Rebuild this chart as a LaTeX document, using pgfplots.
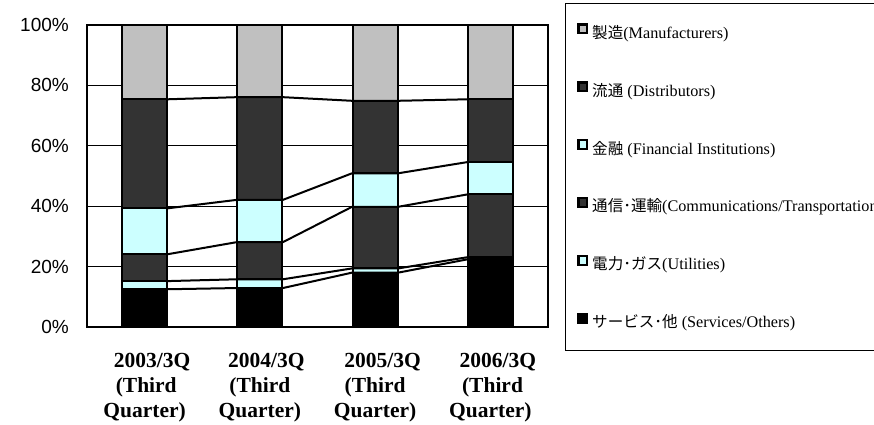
\documentclass[border=0pt]{standalone}
\usepackage{fontspec}
\setmainfont{Liberation Serif}
\newfontfamily\arialf{Liberation Sans}
\newfontfamily\cjk[Scale=0.96]{Noto Sans CJK JP}
\usepackage{pgfplots}
\pgfplotsset{compat=1.18}
\usepackage{pgfplotstable}

\definecolor{cManu}{HTML}{C0C0C0}
\definecolor{cDist}{HTML}{333333}
\definecolor{cFin}{HTML}{CCFFFF}
\definecolor{cComm}{HTML}{333333}
\definecolor{cUtil}{HTML}{CCFFFF}
\definecolor{cServ}{HTML}{000000}

% individual shares (%)
\pgfplotstableread{
x Serv Util Comm Fin Dist Manu
0 12.5 2.7 8.9  15.2 36.1 24.6
1 12.9 2.9 12.3 14.0 34.0 23.9
2 18.0 1.4 20.4 11.1 24.0 25.1
3 22.4 0.7 20.8 10.7 20.8 24.6
}\shares

% cumulative boundaries for the series lines (bar edges at x +/- 0.2)
\pgfplotstableread{
x   c1   c2   c3   c4   c5
0.2 12.5 15.2 24.1 39.3 75.4
0.8 12.9 15.8 28.1 42.1 76.1
1.2 12.9 15.8 28.1 42.1 76.1
1.8 18.0 19.4 39.8 50.9 74.9
2.2 18.0 19.4 39.8 50.9 74.9
2.8 22.4 23.1 43.9 54.6 75.4
}\cumul

\pgfplotsset{
  base/.style={
    scale only axis, width=461bp, height=302bp,
    at={(0,0)}, anchor=south west,
    xmin=-0.5, xmax=3.5, ymin=0, ymax=100,
    enlargelimits=false,
  },
}

\begin{document}
\begin{tikzpicture}
\begin{axis}[base,
  ybar stacked, bar width=45bp,
  axis line style={line width=1.6bp},
  major tick length=0pt,
  ytick={0,20,40,60,80,100},
  yticklabel={\pgfmathprintnumber{\tick}\%},
  /pgf/number format/assume math mode=true,
  yticklabel style={font=\arialf\fontsize{19bp}{22bp}\selectfont, inner sep=0pt, anchor=east, xshift=-18bp},
  xtick={0,1,2,3},
  xticklabels={{\hspace*{0.7em}2003/3Q\\\hspace*{0.15em}(Third\\Quarter)},
               {\hspace*{0.6em}2004/3Q\\(Third\\Quarter)},
               {\hspace*{0.7em}2005/3Q\\(Third\\Quarter)},
               {\hspace*{0.7em}2006/3Q\\\hspace*{0.2em}(Third\\Quarter)}},
  xticklabel style={font=\bfseries\fontsize{21.5bp}{25bp}\selectfont, align=center, inner sep=0pt, anchor=north, yshift=-26bp},
  ymajorgrids, grid style={black, line width=0.7bp},
  every axis plot/.append style={draw=black, line width=2bp},
  legend image code/.code={\draw[#1, line width=2.2bp] (0bp,0.6bp) rectangle (8.6bp,9.2bp);},
  reverse legend,
  legend cell align=left,
  legend style={at={(1,1)}, anchor=north west, xshift=17bp, yshift=22bp,
    draw=black, line width=0.8bp,
    font=\fontsize{16.2bp}{19bp}\selectfont,
    inner xsep=12bp, inner ysep=20bp,
    row sep=40.1bp, column sep=4bp,
    nodes={inner sep=0pt, text height=12bp, text depth=3bp}},
]
\addplot[fill=cServ] table[x=x, y=Serv] {\shares};
\addlegendentry{{\cjk サービス･他} (Services/Others)}
\addplot[fill=cUtil] table[x=x, y=Util] {\shares};
\addlegendentry{{\cjk 電力･ガス}(Utilities)}
\addplot[fill=cComm] table[x=x, y=Comm] {\shares};
\addlegendentry{{\cjk 通信･運輸}(Communications/Transportation)}
\addplot[fill=cFin] table[x=x, y=Fin] {\shares};
\addlegendentry{{\cjk 金融} (Financial Institutions)}
\addplot[fill=cDist] table[x=x, y=Dist] {\shares};
\addlegendentry{{\cjk 流通} (Distributors)}
\addplot[fill=cManu] table[x=x, y=Manu] {\shares};
\addlegendentry{{\cjk 製造}(Manufacturers)}
\end{axis}
\begin{axis}[base, hide axis]
\addplot[black, line width=2bp, no marks] table[x=x, y=c1] {\cumul};
\addplot[black, line width=2bp, no marks] table[x=x, y=c2] {\cumul};
\addplot[black, line width=2bp, no marks] table[x=x, y=c3] {\cumul};
\addplot[black, line width=2bp, no marks] table[x=x, y=c4] {\cumul};
\addplot[black, line width=2bp, no marks] table[x=x, y=c5] {\cumul};
\end{axis}
\pgfresetboundingbox
\path[use as bounding box] (-87bp,-98bp) rectangle (787bp,327bp);
\end{tikzpicture}
\end{document}
